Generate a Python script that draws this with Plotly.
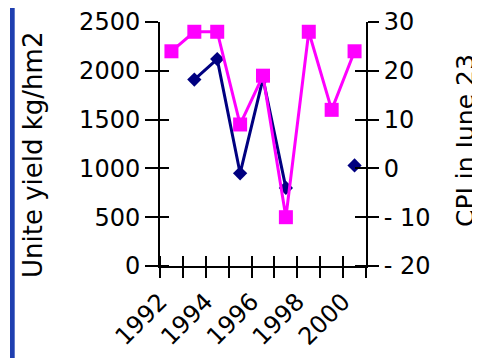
import plotly.graph_objects as go

years = [1992, 1993, 1994, 1995, 1996, 1997, 1998, 1999, 2000]
yield_vals = [None, 1910, 2120, 950, 1920, 800, None, None, 1030]
cpi_vals = [24, 28, 28, 9, 19, -10, 28, 12, 24]

x_labels = ["1992", "", "1994", "", "1996", "", "1998", "", "2000", ""]
y_ticks = [0, 500, 1000, 1500, 2000, 2500]
y2_ticks = [-20, -10, 0, 10, 20, 30]
y2_text = ["- 20", "- 10", "0", "10", "20", "30"]

FONT = "DejaVu Sans"
bounds = [y - 0.5 for y in years] + [years[-1] + 0.5]

# the page body adds an 8px offset; plot area in figure pixel coordinates
L, R, T, B = 152, 358, 14, 258
W, H = R - L, B - T

def px(x):
    return (x - L) / W

def py(y):
    return (B - y) / H

fig = go.Figure()
fig.add_trace(go.Scatter(
    x=years, y=yield_vals, mode="lines+markers", connectgaps=False,
    line=dict(color="#000080", width=3),
    marker=dict(symbol="diamond", size=11, color="#000080"),
    showlegend=False))
fig.add_trace(go.Scatter(
    x=years, y=cpi_vals, mode="lines+markers", yaxis="y2",
    line=dict(color="#FF00FF", width=3),
    marker=dict(symbol="square", size=14, color="#FF00FF"),
    showlegend=False))

tick_common = dict(tickcolor="black", tickwidth=2, showline=True, linecolor="black",
                   linewidth=2, showgrid=False, zeroline=False, automargin=False,
                   ticklabeloverflow="allow")
INNER = "black"

fig.update_layout(
    width=480, height=358,
    margin=dict(l=L, r=480 - R, t=T, b=358 - B),
    paper_bgcolor="white", plot_bgcolor="white",
    font=dict(family=FONT, color="black"),
    xaxis=dict(range=[bounds[0], bounds[-1]], tickmode="array", tickvals=bounds,
               ticktext=x_labels, ticks="outside", ticklen=10, tickangle=-45,
               tickfont=dict(size=24, family=FONT),
               minor=dict(tickmode="array", tickvals=[b + 0.001 for b in bounds],
                          ticks="inside", ticklen=10, tickwidth=2, tickcolor=INNER),
               **tick_common),
    yaxis=dict(range=[0, 2500], tickmode="array", tickvals=y_ticks,
               ticks="outside", ticklen=13, tickfont=dict(size=24, family=FONT),
               minor=dict(tickmode="array", tickvals=[v + 1 for v in y_ticks],
                          ticks="inside", ticklen=9, tickwidth=2, tickcolor=INNER),
               **tick_common),
    yaxis2=dict(range=[-20, 30], overlaying="y", side="right", tickmode="array",
                tickvals=y2_ticks, ticktext=y2_text, ticks="outside", ticklen=11,
                tickfont=dict(size=24, family=FONT),
                minor=dict(tickmode="array", tickvals=[v + 0.02 for v in y2_ticks],
                           ticks="inside", ticklen=11, tickwidth=2, tickcolor=INNER),
                **tick_common),
    annotations=[
        dict(text="Unite yield kg/hm2", textangle=-90, xref="paper", yref="paper",
             x=px(25), y=py(147), xanchor="center", yanchor="middle",
             showarrow=False, font=dict(size=26, family=FONT)),
        dict(text="CPI in June 23", textangle=-90, xref="paper", yref="paper",
             x=px(457), y=py(133), xanchor="center", yanchor="middle",
             showarrow=False, font=dict(size=25, family=FONT)),
    ],
    shapes=[dict(type="rect", xref="paper", yref="paper",
                 x0=px(2), x1=px(6.7), y0=py(360), y1=py(-10),
                 fillcolor="#1f3fb0", line=dict(width=0), layer="below")],
)

fig.write_html("out.html")
